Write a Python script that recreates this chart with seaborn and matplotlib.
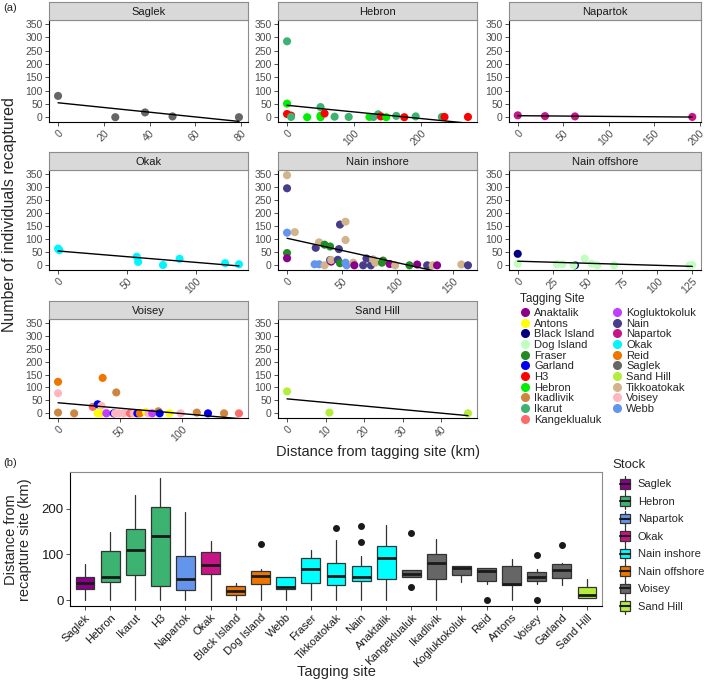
import numpy as np
import pandas as pd
import matplotlib
matplotlib.use("Agg")
import matplotlib.pyplot as plt
import seaborn as sns
from matplotlib.lines import Line2D
from matplotlib.patches import Patch, Rectangle
from matplotlib.legend_handler import HandlerBase

# ---- panel (a) data: recapture counts by distance, one facet per stock ----
saglek_site = ["Saglek"] * 5
saglek_dist = [0, 25, 38, 50, 79]
saglek_n = [80, 0, 18, 3, 0]

hebron_site = ["Ikarut", "Hebron", "H3", "H3", "Ikarut", "Hebron", "Hebron", "Hebron",
               "Ikarut", "H3", "Ikarut", "Ikarut", "Hebron", "Ikarut", "Ikarut", "H3",
               "Hebron", "Ikarut", "H3", "Ikarut", "Ikarut", "H3", "H3"]
hebron_dist = [0, 0, 0, 6, 6, 30, 50, 50, 50, 56, 71, 92, 123, 129, 136, 140,
               148, 163, 175, 192, 231, 235, 270]
hebron_n = [285, 51, 12, 6, 1, 0, 6, 0, 38, 14, 2, 1, 1, 1, 11, 3, 0, 5, 0, 3, 1, 1, 1]

napartok_site = ["Napartok"] * 4
napartok_dist = [0, 30, 63, 192]
napartok_n = [7, 4, 3, 1]

okak_site = ["Okak"] * 8
okak_dist = [0, 1, 57, 58, 76, 88, 121, 131]
okak_n = [64, 58, 33, 13, 1, 25, 8, 4]

naini_site = ["Tikkoatokak", "Nain", "Webb", "Tikkoatokak", "Fraser", "Anaktalik",
              "Nain", "Tikkoatokak", "Fraser", "Fraser", "Webb", "Webb", "Tikkoatokak",
              "Nain", "Anaktalik", "Tikkoatokak", "Nain", "Nain", "Nain", "Fraser",
              "Tikkoatokak", "Tikkoatokak", "Webb", "Webb", "Tikkoatokak", "Anaktalik",
              "Nain", "Nain", "Nain", "Tikkoatokak", "Tikkoatokak", "Fraser", "Fraser",
              "Anaktalik", "Tikkoatokak", "Fraser", "Anaktalik", "Nain", "Tikkoatokak",
              "Anaktalik", "Tikkoatokak", "Nain"]
naini_dist = [0, 0, 0, 7, 0, 0, 26, 29, 34, 39, 25, 29, 34, 39, 40, 40, 46, 48, 47, 48,
              53, 53, 53, 54, 60, 61, 69, 72, 76, 78, 80, 86, 87, 93, 98, 111, 118, 127,
              132, 136, 158, 164]
naini_n = [345, 295, 125, 127, 47, 27, 67, 88, 79, 72, 4, 4, 0, 20, 14, 20, 21, 156, 62, 8,
           167, 97, 10, 0, 10, 0, 0, 26, 0, 23, 10, 10, 18, 5, 0, 0, 3, 0, 0, 0, 3, 0]

naino_site = ["Black Island", "Dog Island", "Black Island", "Dog Island", "Dog Island",
              "Dog Island", "Dog Island", "Dog Island", "Dog Island", "Dog Island",
              "Dog Island", "Dog Island"]
naino_dist = [0, 0, 41, 28, 32, 40, 48, 53, 57, 69, 123, 125]
naino_n = [44, 6, 0, 4, 4, 0, 26, 6, 0, 0, 0, 1]

voisey_site = ["Reid", "Voisey", "Ikadlivik", "Ikadlivik", "Kangeklualuk", "Garland",
               "Voisey", "Reid", "Antons", "Antons", "Voisey", "Kogluktokoluk", "Garland",
               "Voisey", "Ikadlivik", "Voisey", "Voisey", "Kangeklualuk", "Voisey",
               "Garland", "Reid", "Antons", "Voisey", "Kogluktokoluk", "Ikadlivik",
               "Garland", "Antons", "Voisey", "Ikadlivik", "Garland", "Ikadlivik",
               "Kangeklualuk"]
voisey_dist = [0, 0, 0, 13, 28, 32, 35, 36, 32, 34, 39, 39, 45, 46, 47, 49, 53, 58, 61,
               64, 66, 71, 73, 76, 81, 82, 90, 99, 112, 121, 134, 146]
voisey_n = [122, 78, 3, 0, 25, 35, 29, 137, 0, 0, 3, 0, 0, 0, 81, 0, 0, 0, 0, 0, 0, 5, 0,
            0, 8, 0, 0, 0, 3, 0, 0, 0]

sandhill_site = ["Sand Hill"] * 3
sandhill_dist = [0, 11, 47]
sandhill_n = [85, 3, 0]

facets = [
    ("Saglek", saglek_site, saglek_dist, saglek_n, [0, 20, 40, 60, 80]),
    ("Hebron", hebron_site, hebron_dist, hebron_n, [0, 100, 200]),
    ("Napartok", napartok_site, napartok_dist, napartok_n, [0, 50, 100, 150, 200]),
    ("Okak", okak_site, okak_dist, okak_n, [0, 50, 100]),
    ("Nain inshore", naini_site, naini_dist, naini_n, [0, 50, 100, 150]),
    ("Nain offshore", naino_site, naino_dist, naino_n, [0, 25, 50, 75, 100, 125]),
    ("Voisey", voisey_site, voisey_dist, voisey_n, [0, 50, 100]),
    ("Sand Hill", sandhill_site, sandhill_dist, sandhill_n, [0, 10, 20, 30, 40]),
]

# ---- panel (b) data: boxplot summaries per tagging site ----
box_sites = ["Saglek", "Hebron", "Ikarut", "H3", "Napartok", "Okak", "Black Island",
             "Dog Island", "Webb", "Fraser", "Tikkoatokak", "Nain", "Anaktalik",
             "Kangeklualuk", "Ikadlivik", "Kogluktokoluk", "Reid", "Antons", "Voisey",
             "Garland", "Sand Hill"]
box_stock = ["Saglek", "Hebron", "Hebron", "Hebron", "Napartok", "Okak", "Nain offshore",
             "Nain offshore", "Nain inshore", "Nain inshore", "Nain inshore", "Nain inshore",
             "Nain inshore", "Voisey", "Voisey", "Voisey", "Voisey", "Voisey", "Voisey",
             "Voisey", "Sand Hill"]
box_low = [0, 0, 0, 0, 0, 0, 0, 0, 0, 0, 0, 0, 0, 50, 0, 39, 36, 0, 36, 33, 4]
box_q1 = [24, 39, 55, 30, 22, 57, 10, 35, 25, 38, 33, 41, 46, 50, 46, 55, 41, 33, 41, 49, 5]
box_med = [38, 50, 110, 139, 47, 77, 20, 53, 28, 67, 53, 51, 92, 58, 82, 71, 63, 35, 50, 65, 11]
box_q3 = [50, 107, 156, 204, 96, 104, 30, 63, 51, 93, 80, 75, 118, 66, 101, 75, 70, 75, 61, 78, 29]
box_high = [78, 148, 229, 267, 192, 130, 38, 67, 51, 110, 132, 97, 165, 66, 134, 75, 70, 90, 67, 82, 46]
box_out = [[], [], [], [], [], [], [], [122], [], [], [158], [128, 163], [],
           [28, 147], [], [], [0], [], [0, 99], [121], []]

stock_order = ["Saglek", "Hebron", "Napartok", "Okak", "Nain inshore", "Nain offshore",
               "Voisey", "Sand Hill"]

# colours
site_colors = {
    "Anaktalik": "#8B008B", "Antons": "#FFFF00", "Black Island": "#000080",
    "Dog Island": "#C1FFC1", "Fraser": "#228B22", "Garland": "#0000EE", "H3": "#FF0000",
    "Hebron": "#00EE00", "Ikadlivik": "#CD853F", "Ikarut": "#3CB371",
    "Kangeklualuk": "#FF6A6A", "Kogluktokoluk": "#BF3EFF", "Nain": "#483D8B",
    "Napartok": "#C71585", "Okak": "#00F5FF", "Reid": "#EE7600", "Saglek": "#666666",
    "Sand Hill": "#B3EE3A", "Tikkoatokak": "#D2B48C", "Voisey": "#FFB6C1", "Webb": "#6495ED",
}
stock_colors = {
    "Saglek": "#8B008B", "Hebron": "#3CB371", "Napartok": "#6495ED", "Okak": "#C71585",
    "Nain inshore": "#00FFFF", "Nain offshore": "#EE7600", "Voisey": "#666666",
    "Sand Hill": "#B3EE3A",
}

sns.set_theme(style="white")
plt.rcParams["font.family"] = ["Liberation Sans", "DejaVu Sans"]

W, H = 709, 682
fig = plt.figure(figsize=(W / 100, H / 100), dpi=100)


def px_axes(x0, y0, x1, y1):
    # place an axes by pixel box (top-left origin)
    return fig.add_axes([x0 / W, 1 - y1 / H, (x1 - x0) / W, (y1 - y0) / H])


def style_spines(ax):
    for s in ["left", "bottom"]:
        ax.spines[s].set_color("black")
        ax.spines[s].set_linewidth(0.8)
    for s in ["top", "right"]:
        ax.spines[s].set_color("#8C8C8C")
        ax.spines[s].set_linewidth(0.8)


class BoxKey(HandlerBase):
    # ggplot-like boxplot legend key: box, median line, whiskers
    def create_artists(self, legend, orig, xd, yd, width, height, fontsize, trans):
        cx = -xd + width / 2
        cy = -yd + height / 2
        bw, bh = width * 0.85, height * 0.7
        fc = orig.get_facecolor()
        whisk = Line2D([cx, cx], [-yd - 1, -yd + height + 1], color="#333333", lw=0.9,
                       transform=trans)
        box = Rectangle((cx - bw / 2, cy - bh / 2), bw, bh, facecolor=fc,
                        edgecolor="#333333", lw=0.9, transform=trans)
        med = Line2D([cx - bw / 2, cx + bw / 2], [cy, cy], color="#1A1A1A", lw=1.5,
                     transform=trans)
        return [whisk, box, med]


col_x = [(49, 248), (278, 477), (509, 701)]
row_y = [(20, 122), (170, 270), (319, 418)]

for k, (name, sites, dist, n, ticks) in enumerate(facets):
    r, c = divmod(k, 3)
    x0, x1 = col_x[c]
    y0, y1 = row_y[r]
    ax = px_axes(x0, y0, x1, y1)
    df = pd.DataFrame({"site": sites, "dist": dist, "n": n})
    sns.scatterplot(data=df, x="dist", y="n", hue="site", palette=site_colors, s=34,
                    linewidth=0, legend=False, ax=ax, zorder=2)
    sns.regplot(data=df, x="dist", y="n", scatter=False, ci=None, truncate=True,
                color="black", line_kws={"lw": 1, "zorder": 3}, ax=ax)
    lo, hi = min(dist), max(dist)
    pad = 0.05 * (hi - lo)
    ax.set_xlim(lo - pad, hi + pad)
    ax.set_ylim(-18, 365)
    ax.set_xticks(ticks)
    ax.set_xticklabels([str(t) for t in ticks], rotation=45, ha="right",
                       rotation_mode="anchor")
    ax.set_yticks(range(0, 351, 50))
    ax.set_xlabel("")
    ax.set_ylabel("")
    ax.tick_params(axis="both", labelsize=7.5, labelcolor="#4D4D4D", color="#333333",
                   length=3, width=0.6, pad=1.5, bottom=True, left=True)
    style_spines(ax)

    # facet strip
    st = px_axes(x0, y0 - 18, x1, y0)
    st.set_facecolor("#D9D9D9")
    st.set_xticks([])
    st.set_yticks([])
    for s in st.spines.values():
        s.set_color("#8C8C8C")
        s.set_linewidth(0.8)
    st.text(0.5, 0.45, name, ha="center", va="center", fontsize=8, color="#1A1A1A",
            transform=st.transAxes)

# legend for tagging sites
site_handles = [Line2D([], [], marker="o", ls="", color=site_colors[s], markersize=5.5)
                for s in site_colors]
fig.text(520 / W, 1 - 299 / H, "Tagging Site", fontsize=8.5, va="center", ha="left")
fig.legend(site_handles, list(site_colors), loc="upper left",
           bbox_to_anchor=(521 / W, 1 - 308 / H), ncol=2, frameon=False,
           fontsize=8, handlelength=0.8, handletextpad=0.4, labelspacing=0.06,
           columnspacing=1.0, borderpad=0, borderaxespad=0)

# ---- panel (b) ----
axb = px_axes(70, 472, 602, 606)
stats = []
for i in range(len(box_sites)):
    stats.append(dict(whislo=box_low[i], q1=box_q1[i], med=box_med[i], q3=box_q3[i],
                      whishi=box_high[i], fliers=box_out[i]))
bp = axb.bxp(stats, positions=range(1, len(box_sites) + 1), widths=0.75,
             patch_artist=True, showfliers=True,
             boxprops=dict(edgecolor="#333333", linewidth=0.9),
             medianprops=dict(color="#1A1A1A", linewidth=2),
             whiskerprops=dict(color="#333333", linewidth=0.9),
             capprops=dict(linewidth=0),
             flierprops=dict(marker="o", markerfacecolor="#1A1A1A",
                             markeredgecolor="#1A1A1A", markersize=4))
for patch, stock in zip(bp["boxes"], box_stock):
    patch.set_facecolor(stock_colors[stock])

axb.set_xlim(0.4, len(box_sites) + 0.6)
axb.set_ylim(-13, 280)
axb.set_yticks([0, 100, 200])
axb.set_xticks(range(1, len(box_sites) + 1))
axb.set_xticklabels(box_sites, rotation=45, ha="right", rotation_mode="anchor")
axb.tick_params(axis="x", labelsize=8, labelcolor="#1A1A1A", length=3, width=0.6,
                pad=1.5, bottom=True, color="#333333")
axb.tick_params(axis="y", labelsize=9.5, labelcolor="#1A1A1A", length=3, width=0.6,
                pad=1.5, left=True, color="#333333")
style_spines(axb)

stock_handles = [Patch(facecolor=stock_colors[s]) for s in stock_order]
fig.text(612 / W, 1 - 465 / H, "Stock", fontsize=9.5, va="center", ha="left")
fig.legend(stock_handles, stock_order, loc="upper left",
           bbox_to_anchor=(619 / W, 1 - 477 / H), frameon=False, fontsize=8,
           handlelength=1.1, handleheight=1.5, labelspacing=0.35, handletextpad=0.6,
           borderpad=0, borderaxespad=0, handler_map={Patch: BoxKey()})

# labels
fig.text(3 / W, 1 - 8 / H, "(a)", fontsize=8, va="center")
fig.text(3 / W, 1 - 463 / H, "(b)", fontsize=8, va="center")
fig.text(10 / W, 1 - 215 / H, "Number of individuals recaptured", rotation=90,
         ha="center", va="center", fontsize=11.5)
fig.text(378 / W, 1 - 452 / H, "Distance from tagging site (km)", ha="center",
         va="center", fontsize=10.5)
fig.text(18 / W, 1 - 540 / H, "Distance from\nrecapture site (km)", rotation=90,
         ha="center", va="center", fontsize=10.5, linespacing=1.0)
fig.text(336 / W, 1 - 672 / H, "Tagging site", ha="center", va="center", fontsize=10.5)

fig.savefig("out.png", dpi=100)
